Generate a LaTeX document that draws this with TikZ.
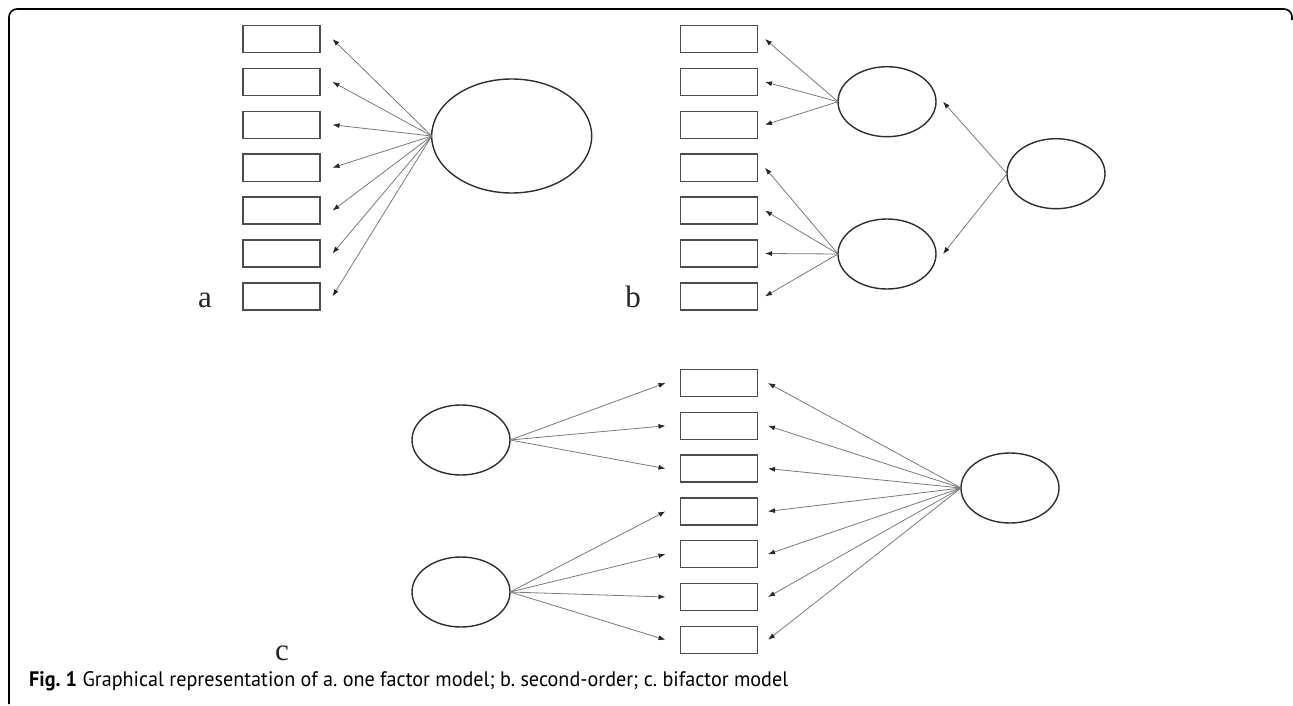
\documentclass[tikz,border=0pt]{standalone}
\usepackage{graphicx}
\usepackage{fontspec}
\setmainfont{Liberation Serif}
\newfontfamily\capfont{PT Sans}
\usetikzlibrary{shapes.geometric,arrows.meta,calc}
\frenchspacing
\begin{document}
\begin{tikzpicture}[x=1pt,y=-1pt,
  obs/.style={draw=black!70,line width=1.4pt,minimum width=77pt,minimum height=27pt,inner sep=0pt,outer sep=0pt},
  lat/.style={ellipse,draw=black!82,line width=1.4pt,inner sep=0pt,outer sep=0pt,minimum width=98pt,minimum height=70pt},
  conn/.style={draw=black!52,line width=0.8pt,-{Latex[length=7pt,width=5pt,color=black!85]}},
  lbl/.style={font=\fontsize{31}{31}\selectfont,text=black!85,inner sep=0pt,anchor=base}
]
\useasboundingbox (0,0) rectangle (1293,706);
% frame
\draw[line width=1.6pt,rounded corners=8pt] (9,704) -- (9,9) -- (1292,9) -- (1292,20);

% ---------- panel a ----------
\node[lat,minimum width=160pt,minimum height=114pt] (A) at (511.7,136) {};
\foreach \i in {1,...,7}{
  \node[obs] (a\i) at (281.5,{39+(\i-1)*42.9}) {};
  \coordinate (ta\i) at ($(a\i.east)+(12.5,0)$);
  \draw[conn] (A.west) -- (ta\i);
}
\node[lbl] (la) at (205,307) {a};

% ---------- panel b ----------
\node[lat] (B1) at (887,101.7) {};
\node[lat] (B2) at (887,254) {};
\node[lat] (BG) at (1056,173.7) {};
\foreach \i in {1,...,7}{
  \node[obs] (b\i) at (719,{39+(\i-1)*42.9}) {};
  \coordinate (tb\i) at ($(b\i.east)+(7.5,0)$);
}
\foreach \i in {1,2,3}{ \draw[conn] (B1.west) -- (tb\i); }
\foreach \i in {4,5,6,7}{ \draw[conn] (B2.west) -- (tb\i); }
\coordinate (tB1) at ($(B1.east)+(7,0)$);
\coordinate (tB2) at ($(B2.east)+(7,0)$);
\draw[conn] (BG.west) -- (tB1);
\draw[conn] (BG.west) -- (tB2);
\node[lbl] (lb) at (633,307) {b};

% ---------- panel c ----------
\node[lat] (C1) at (461,440) {};
\node[lat] (C2) at (461,592) {};
\node[lat] (CG) at (1010,488) {};
\foreach \i in {1,...,7}{
  \node[obs] (c\i) at (719,{383+(\i-1)*42.8}) {};
  \coordinate (tcl\i) at ($(c\i.west)+(-15,0)$);
  \coordinate (tcr\i) at ($(c\i.east)+(10.5,0)$);
  \draw[conn] (CG.west) -- (tcr\i);
}
\foreach \i in {1,2,3}{ \draw[conn] (C1.east) -- (tcl\i); }
\foreach \i in {4,5,6,7}{ \draw[conn] (C2.east) -- (tcl\i); }
\node[lbl] (lc) at (282,660) {c};

% ---------- caption ----------
\node[anchor=base west,inner sep=0pt] (cap) at (29,686.7)
  {\resizebox{759pt}{\height}{\capfont\fontsize{21}{21}\selectfont\frenchspacing\textbf{Fig. 1} Graphical representation of a. one factor model; b. second-order; c. bifactor model}};
\end{tikzpicture}
\end{document}
